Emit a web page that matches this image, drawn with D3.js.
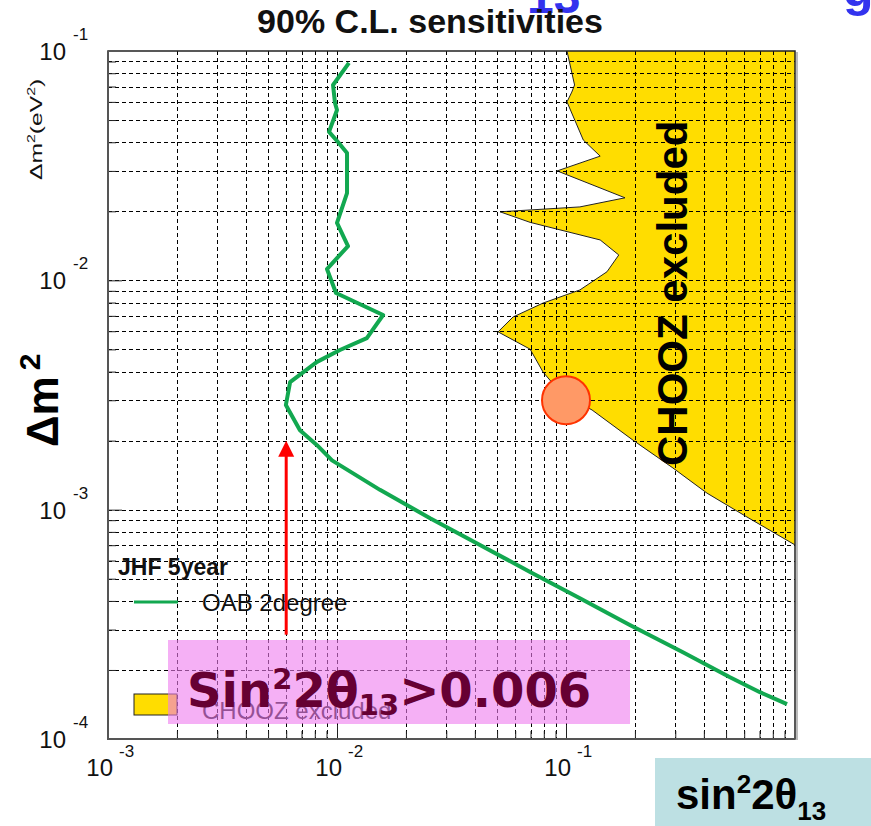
<!DOCTYPE html>
<html>
<head>
<meta charset="utf-8">
<script src="https://cdn.jsdelivr.net/npm/d3@7"></script>
<style>
  body { margin: 0; background: #fff; }
  svg { display: block; }
</style>
</head>
<body>
<svg id="chart" width="871" height="826"></svg>
<script>
// decade ticks and their exponent labels
const xDecades = [1e-3, 1e-2, 1e-1];
const xExponents = ["-3", "-2", "-1"];
const yDecades = [1e-4, 1e-3, 1e-2, 1e-1];
const yExponents = ["-4", "-3", "-2", "-1"];

// JHF 5year, OAB 2degree sensitivity curve (sin^2 2theta13, dm^2)
const oabSin2 = [0.01128, 0.00961, 0.00980, 0.0100, 0.00923, 0.0101, 0.01106, 0.01106, 0.01106, 0.0100,
                 0.01117, 0.00904, 0.00990, 0.0159, 0.0135, 0.0103, 0.00818, 0.00624, 0.00598, 0.00689,
                 0.00818, 0.00951, 0.0154, 0.0255, 0.0421, 0.0697, 0.115, 0.190, 0.324, 0.520, 0.703, 0.923];
const oabDm2  = [0.0887, 0.0711, 0.0593, 0.0553, 0.0444, 0.0401, 0.0359, 0.0294, 0.0240, 0.0178,
                 0.0141, 0.0112, 0.00881, 0.00706, 0.00560, 0.00497, 0.00441, 0.00360, 0.00286, 0.00222,
                 0.00191, 0.00164, 0.00122, 0.000918, 0.000702, 0.000535, 0.000411, 0.000314, 0.000239, 0.000186, 0.000160, 0.000142];

// CHOOZ excluded region boundary
const choozSin2 = [0.101, 0.109, 0.106, 0.101, 0.119, 0.141, 0.0915, 0.181, 0.115, 0.0515, 0.0697, 0.141,
                   0.170, 0.151, 0.115, 0.0794, 0.0587, 0.0505, 0.0697, 0.0794, 0.0942, 0.130, 0.196,
                   0.293, 0.413, 0.617, 1.0];
const choozDm2  = [0.1, 0.0711, 0.0662, 0.060, 0.0409, 0.0348, 0.030, 0.0229, 0.0209, 0.0199, 0.0179, 0.0150,
                   0.0129, 0.0109, 0.00908, 0.00796, 0.00692, 0.00596, 0.00501, 0.00398, 0.00326, 0.00272, 0.00201,
                   0.00152, 0.00118, 0.000929, 0.000702];

// sensitivity arrow and CHOOZ point at atmospheric dm^2
const arrowSin2 = [0.006, 0.006];
const arrowDm2 = [0.000285, 0.00200];
const pointSin2 = [0.1];
const pointDm2 = [0.003];

const svg = d3.select("#chart");
const font = "Liberation Sans, Arial, sans-serif";

const x = d3.scaleLog().domain([1e-3, 1]).range([108, 795]);
const y = d3.scaleLog().domain([1e-4, 1e-1]).range([739, 51]);
const px = v => Math.round(v) + 0.5;

// minor + major grid values
const gridX = [], gridY = [];
[-3, -2, -1].forEach(e => d3.range(1, 10).forEach(m => { const v = m * Math.pow(10, e); if (v > 1e-3) gridX.push(v); }));
[-4, -3, -2].forEach(e => d3.range(1, 10).forEach(m => { const v = m * Math.pow(10, e); if (v > 1e-4) gridY.push(v); }));

// blue slide title remnants, clipped at the top
svg.append("text").attr("x", 527).attr("y", 13).attr("font-family", font).attr("font-weight", "bold")
  .attr("font-size", 48).attr("fill", "#3333ee").text("13");
svg.append("text").attr("x", 843).attr("y", 6).attr("font-family", font).attr("font-weight", "bold")
  .attr("font-size", 50).attr("fill", "#3333ee").text("g");

// CHOOZ excluded area
const pts = choozSin2.map((s, i) => [s, choozDm2[i]]);
const line = d3.line().x(d => x(d[0])).y(d => y(d[1]));
svg.append("path")
  .attr("d", line(pts.concat([[1, 0.1]])) + "Z")
  .attr("fill", "#ffdd00");
svg.append("path")
  .attr("d", line(pts))
  .attr("fill", "none").attr("stroke", "#222").attr("stroke-width", 1);

// dashed grid
const grid = svg.append("g").attr("stroke", "#000").attr("stroke-width", 1)
  .attr("stroke-dasharray", "4,3").attr("shape-rendering", "crispEdges");
grid.selectAll("line.gx").data(gridX).enter().append("line").attr("class", "gx")
  .attr("x1", d => px(x(d))).attr("x2", d => px(x(d))).attr("y1", 51).attr("y2", 739);
grid.selectAll("line.gy").data(gridY).enter().append("line").attr("class", "gy")
  .attr("y1", d => px(y(d))).attr("y2", d => px(y(d))).attr("x1", 108).attr("x2", 795);

// inward ticks
const minorX = gridX.filter(v => !xDecades.includes(v));
const minorY = gridY.filter(v => !yDecades.includes(v));
svg.append("g").attr("transform", "translate(0,739)")
  .call(d3.axisBottom(x).tickValues(xDecades.slice(1)).tickSize(-14).tickSizeOuter(0).tickFormat(""));
svg.append("g").attr("transform", "translate(0,739)")
  .call(d3.axisBottom(x).tickValues(minorX).tickSize(-8).tickSizeOuter(0).tickFormat(""));
svg.append("g").attr("transform", "translate(108,0)")
  .call(d3.axisLeft(y).tickValues(yDecades.slice(1, 3)).tickSize(-14).tickSizeOuter(0).tickFormat(""));
svg.append("g").attr("transform", "translate(108,0)")
  .call(d3.axisLeft(y).tickValues(minorY).tickSize(-8).tickSizeOuter(0).tickFormat(""));
svg.selectAll(".tick line").attr("stroke", "#222");
svg.selectAll(".domain").remove();

// OAB sensitivity curve
svg.append("path")
  .datum(oabSin2.map((s, i) => [s, oabDm2[i]]))
  .attr("d", line)
  .attr("fill", "none").attr("stroke", "#12a850").attr("stroke-width", 4)
  .attr("stroke-linejoin", "round");

// CHOOZ point
svg.selectAll("circle.pt").data(pointSin2).enter().append("circle")
  .attr("cx", d => x(d)).attr("cy", (d, i) => y(pointDm2[i])).attr("r", 24)
  .attr("fill", "#ff9966").attr("stroke", "#ff3300").attr("stroke-width", 2);

// CHOOZ excluded label
svg.append("text").attr("transform", "translate(687,466) rotate(-90)")
  .attr("font-family", font).attr("font-weight", "bold").attr("font-size", 42).attr("fill", "#000")
  .text("CHOOZ excluded");

// frame
svg.append("rect").attr("x", 108).attr("y", 51).attr("width", 687).attr("height", 688)
  .attr("fill", "none").attr("stroke", "#222").attr("stroke-width", 1.5);
svg.append("line").attr("x1", 797).attr("x2", 797).attr("y1", 52).attr("y2", 740)
  .attr("stroke", "#bbb").attr("stroke-width", 2);
svg.append("path").attr("d", "M108,51V739H795").attr("fill", "none").attr("stroke", "#555").attr("stroke-width", 2);

// legend
svg.append("text").attr("x", 118).attr("y", 575).attr("font-family", font).attr("font-weight", "bold")
  .attr("font-size", 23).attr("fill", "#111").text("JHF 5year");
svg.append("line").attr("x1", 134).attr("x2", 178).attr("y1", 602).attr("y2", 602)
  .attr("stroke", "#12a850").attr("stroke-width", 3);
svg.append("text").attr("x", 202).attr("y", 611).attr("font-family", font)
  .attr("font-size", 24).attr("fill", "#111").text("OAB 2degree");
svg.append("rect").attr("x", 134).attr("y", 694).attr("width", 43).attr("height", 21)
  .attr("fill", "#ffdd00").attr("stroke", "#222").attr("stroke-width", 1);
svg.append("text").attr("x", 202).attr("y", 719).attr("font-family", font)
  .attr("font-size", 24).attr("fill", "#111").text("CHOOZ excluded");

// red arrow
const ax = x(arrowSin2[0]);
svg.append("line").attr("x1", ax).attr("x2", ax).attr("y1", y(arrowDm2[0])).attr("y2", y(arrowDm2[1]) + 14)
  .attr("stroke", "#ff0000").attr("stroke-width", 3);
svg.append("path")
  .attr("d", `M${ax},${y(arrowDm2[1])}L${ax - 8},${y(arrowDm2[1]) + 16}L${ax + 8},${y(arrowDm2[1]) + 16}Z`)
  .attr("fill", "#ff0000");

// pink overlay box
svg.append("rect").attr("x", 168).attr("y", 640).attr("width", 462).attr("height", 84)
  .attr("fill", "rgb(238,123,238)").attr("opacity", 0.6);
const note = svg.append("text").attr("x", 187).attr("y", 707)
  .attr("font-family", "DejaVu Sans, Verdana, sans-serif").attr("font-weight", "bold")
  .attr("font-size", 48).attr("fill", "#660033");
note.append("tspan").text("Sin");
note.append("tspan").attr("font-size", 29).attr("dy", -18).text("2");
note.append("tspan").attr("dy", 18).text("2θ");
note.append("tspan").attr("font-size", 29).attr("dy", 8).text("13");
note.append("tspan").attr("dy", -8).text(">0.006");

// title
svg.append("text").attr("x", 430).attr("y", 33).attr("text-anchor", "middle")
  .attr("font-family", font).attr("font-weight", "bold").attr("font-size", 34).attr("fill", "#111")
  .text("90% C.L. sensitivities");

// tick labels
xDecades.forEach((t, i) => {
  svg.append("text").attr("x", x(t) + 5).attr("y", 776).attr("text-anchor", "end")
    .attr("font-family", font).attr("font-size", 24).attr("fill", "#111").text("10");
  svg.append("text").attr("x", x(t) + 11).attr("y", 757)
    .attr("font-family", font).attr("font-size", 17).attr("fill", "#111").text(xExponents[i]);
});
yDecades.forEach((t, i) => {
  svg.append("text").attr("x", 66).attr("y", y(t) + 9).attr("text-anchor", "end")
    .attr("font-family", font).attr("font-size", 24).attr("fill", "#111").text("10");
  svg.append("text").attr("x", 73).attr("y", y(t) - 11)
    .attr("font-family", font).attr("font-size", 17).attr("fill", "#111").text(yExponents[i]);
});

// axis titles
const yt = svg.append("text").attr("transform", "translate(42,180) rotate(-90) scale(1.45,1)")
  .attr("font-family", font).attr("font-size", 17).attr("fill", "#111");
yt.append("tspan").text("Δm");
yt.append("tspan").attr("font-size", 11).attr("dy", -7).text("2");
yt.append("tspan").attr("dy", 7).text("(eV");
yt.append("tspan").attr("font-size", 11).attr("dy", -7).text("2");
yt.append("tspan").attr("dy", 7).text(")");

const dm = svg.append("text").attr("transform", "translate(58,447) rotate(-90)")
  .attr("font-family", font).attr("font-weight", "bold").attr("font-size", 44).attr("fill", "#000");
dm.append("tspan").text("Δm");
dm.append("tspan").attr("font-size", 30).attr("dx", 6).attr("dy", -18).text("2");

// x-axis title box
svg.append("rect").attr("x", 655).attr("y", 758).attr("width", 216).attr("height", 68).attr("fill", "#bde0e3");
const xt = svg.append("text").attr("x", 676).attr("y", 809)
  .attr("font-family", font).attr("font-weight", "bold").attr("font-size", 42).attr("fill", "#000");
xt.append("tspan").text("sin");
xt.append("tspan").attr("font-size", 26).attr("dy", -16).text("2");
xt.append("tspan").attr("dy", 16).text("2θ");
xt.append("tspan").attr("font-size", 26).attr("dy", 11).text("13");
</script>
</body>
</html>
